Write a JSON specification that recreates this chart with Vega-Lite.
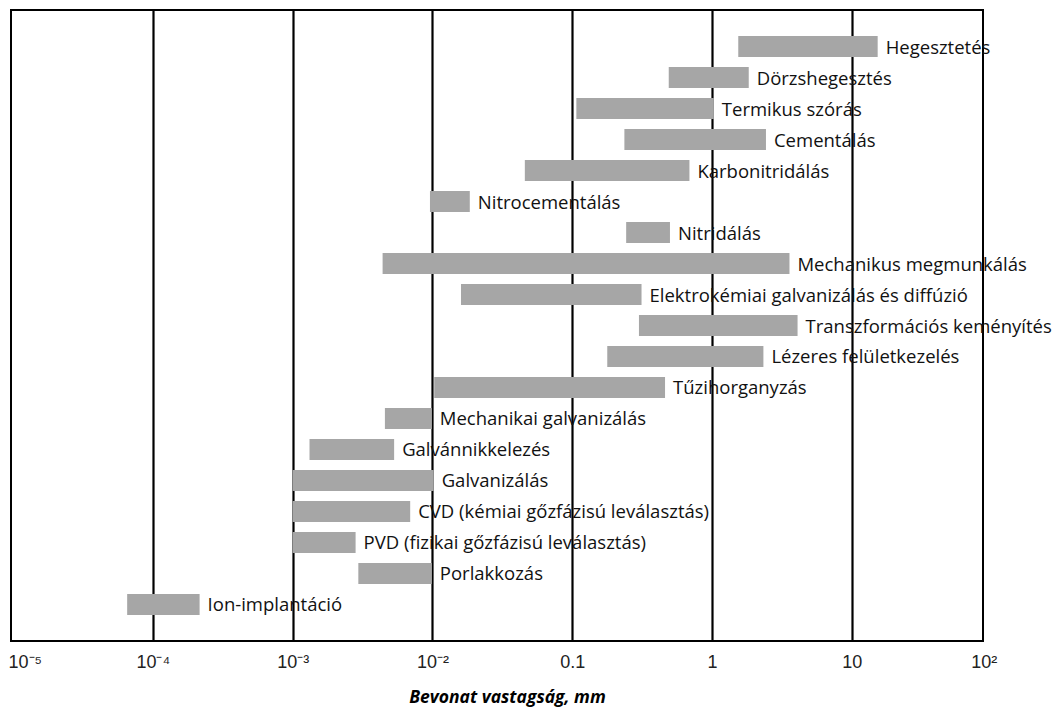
{
  "$schema": "https://vega.github.io/schema/vega-lite/v6.json",
  "width": 972,
  "height": 631,
  "autosize": {"type": "none"},
  "padding": {"left": 11, "top": 10, "right": 77, "bottom": 72},
  "background": "white",
  "config": {
    "view": {"stroke": "black", "strokeWidth": 2},
    "axis": {"gridColor": "black", "gridOpacity": 1}
  },
  "data": {
    "values": [
      {"label": "Hegesztetés", "start": 1.54, "end": 15.3},
      {"label": "Dörzshegesztés", "start": 0.49, "end": 1.83},
      {"label": "Termikus szórás", "start": 0.107, "end": 1.03},
      {"label": "Cementálás", "start": 0.236, "end": 2.43},
      {"label": "Karbonitridálás", "start": 0.0458, "end": 0.689},
      {"label": "Nitrocementálás", "start": 0.0096, "end": 0.0185},
      {"label": "Nitridálás", "start": 0.243, "end": 0.5},
      {"label": "Mechanikus megmunkálás", "start": 0.0044, "end": 3.58},
      {"label": "Elektrokémiai galvanizálás és diffúzió", "start": 0.016, "end": 0.313},
      {"label": "Transzformációs keményítés", "start": 0.3, "end": 4.09},
      {"label": "Lézeres felületkezelés", "start": 0.178, "end": 2.33},
      {"label": "Tűzihorganyzás", "start": 0.0103, "end": 0.461},
      {"label": "Mechanikai galvanizálás", "start": 0.00457, "end": 0.0099},
      {"label": "Galvánnikkelezés", "start": 0.00132, "end": 0.00532},
      {"label": "Galvanizálás", "start": 0.001, "end": 0.0102},
      {"label": "CVD (kémiai gőzfázisú leválasztás)", "start": 0.001, "end": 0.00693},
      {"label": "PVD (fizikai gőzfázisú leválasztás)", "start": 0.001, "end": 0.00282},
      {"label": "Porlakkozás", "start": 0.00295, "end": 0.0099},
      {"label": "Ion-implantáció", "start": 0.0000655, "end": 0.000216}
    ]
  },
  "layer": [
    {
      "mark": {"type": "bar", "color": "#a6a6a6"},
      "encoding": {
        "y": {
          "field": "label",
          "type": "nominal",
          "sort": null,
          "axis": null,
          "scale": {"paddingInner": 0.32, "paddingOuter": 0.84}
        },
        "x": {
          "field": "start",
          "type": "quantitative",
          "scale": {"type": "log", "domain": [0.00001, 100], "range": [2.05, 980.65]},
          "axis": {
            "orient": "bottom",
            "values": [0.00001, 0.0001, 0.001, 0.01, 0.1, 1, 10, 100],
            "grid": false,
            "ticks": false,
            "domain": false,
            "labelExpr": "datum.value < 5e-5 ? '10⁻⁵' : datum.value < 5e-4 ? '10⁻⁴' : datum.value < 5e-3 ? '10⁻³' : datum.value < 0.05 ? '10⁻²' : datum.value < 0.5 ? '0.1' : datum.value < 5 ? '1' : datum.value < 50 ? '10' : '10²'",
            "labelFont": "Liberation Sans",
            "labelFontSize": 18,
            "labelColor": "#222222",
            "labelPadding": 12,
            "labelFlush": 20,
            "labelFlushOffset": 5,
            "title": "Bevonat vastagság, mm",
            "titleFont": "Open Sans",
            "titleFontSize": 17.5,
            "titleFontStyle": "italic",
            "titleFontWeight": "bold",
            "titleColor": "black",
            "titleX": 496,
            "titleY": 61,
            "titleBaseline": "alphabetic"
          }
        },
        "x2": {"field": "end"}
      }
    },
    {
      "mark": {
        "type": "text",
        "align": "left",
        "baseline": "middle",
        "dx": 8,
        "dy": 1,
        "font": "Open Sans",
        "fontSize": 18.5,
        "color": "#111111"
      },
      "encoding": {
        "y": {"field": "label", "type": "nominal", "sort": null},
        "x": {
          "field": "end",
          "type": "quantitative",
          "axis": {
            "orient": "top",
            "values": [0.0001, 0.001, 0.01, 0.1, 1, 10],
            "grid": true,
            "gridColor": "black",
            "gridWidth": 2.2,
            "labels": false,
            "ticks": false,
            "domain": false,
            "title": null
          }
        },
        "text": {"field": "label"}
      }
    }
  ],
  "resolve": {"axis": {"x": "independent"}}
}
